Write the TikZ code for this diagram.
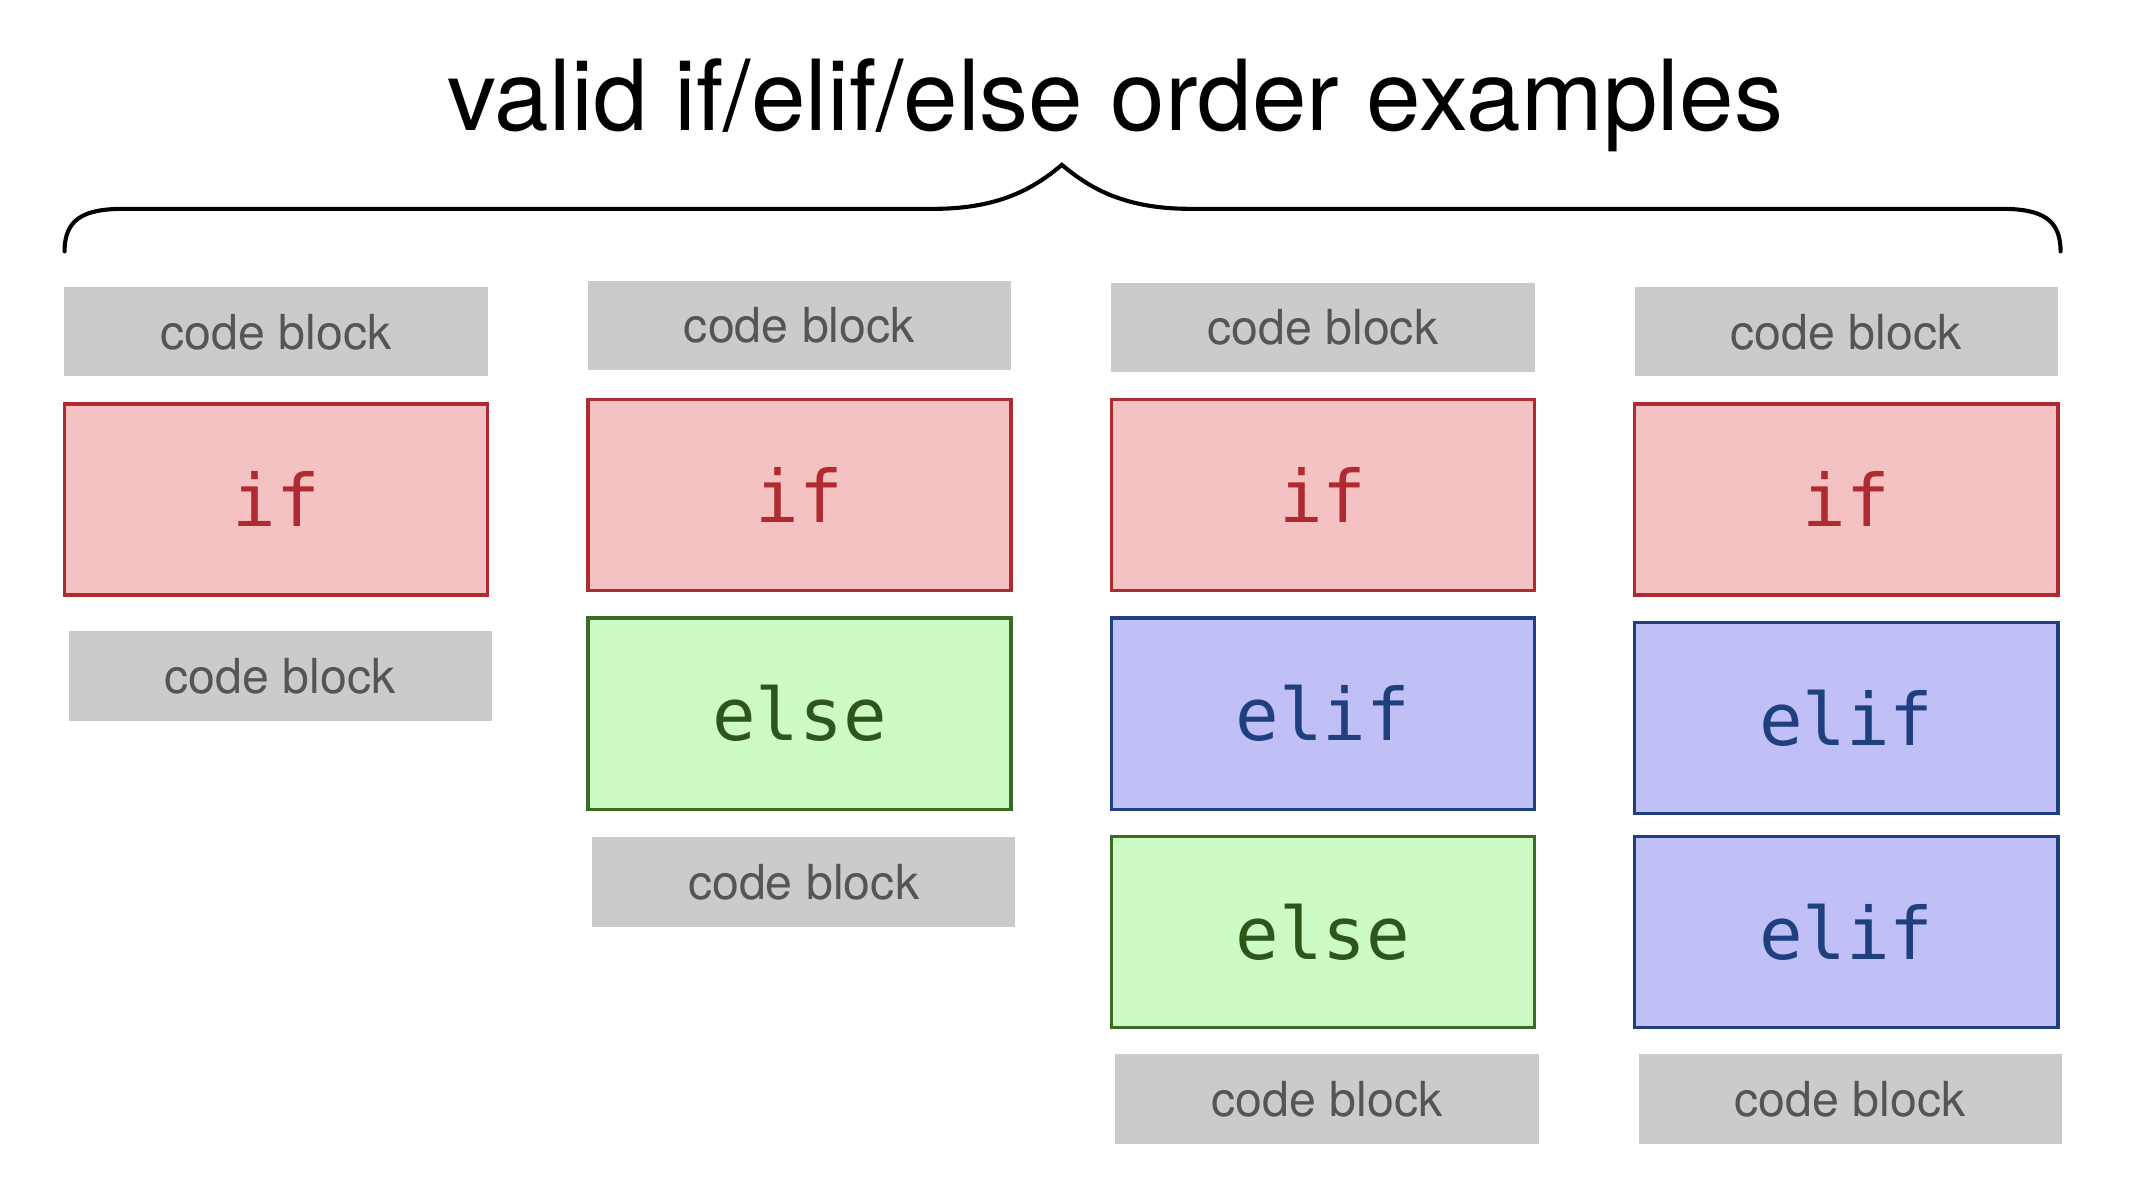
\documentclass[tikz,border=0pt]{standalone}
\usepackage{fontspec}
\setmainfont{TeX Gyre Heros}
\newfontfamily\monofont{DejaVu Sans Mono}
\usetikzlibrary{positioning,calc}
\definecolor{blkgray}{HTML}{CBCBCB}
\definecolor{blktext}{HTML}{555555}
\definecolor{iffill}{HTML}{F4C2C2}
\definecolor{ifline}{HTML}{B02A32}
\definecolor{eliffill}{HTML}{C0C0F6}
\definecolor{elifline}{HTML}{1F3F7F}
\definecolor{elsefill}{HTML}{CCFCC4}
\definecolor{elseline}{HTML}{3A6B22}
\tikzset{
  codeblk/.style={fill=blkgray,text=blktext,minimum width=3.08cm,minimum height=0.65cm,
    inner sep=0pt,font=\fontsize{10}{10}\selectfont},
  kwblk/.style={minimum width=3.08cm,minimum height=1.39cm,inner sep=0pt,line width=0.7pt,
    font=\monofont\fontsize{15}{15}\selectfont},
  ifblk/.style={kwblk,fill=iffill,draw=ifline,text=ifline},
  elifblk/.style={kwblk,fill=eliffill,draw=elifline,text=elifline},
  elseblk/.style={kwblk,fill=elsefill,draw=elseline,text=elseline!80!black}
}
\newcommand \mycode[3]{\node[codeblk] (#1) at (#2,#3) {code block};}
\begin{document}
\begin{tikzpicture}[x=0.01cm,y=-0.01cm]
\useasboundingbox (0,0) rectangle (1568,859);
% title and brace
\node[anchor=base,font=\fontsize{20.3}{20.3}\selectfont] (title) at (812,95) {valid if/elif/else order examples};
\draw[line width=0.85pt,line cap=round] (47,183) .. controls (47,160) and (60,152) .. (90,152)
  -- (680,152) .. controls (730,152) and (755,135) .. (773,120)
  .. controls (791,135) and (816,152) .. (866,152)
  -- (1457,152) .. controls (1487,152) and (1500,160) .. (1500,183);
% column 1: if
\mycode{ctopA}{201}{241.5}
\node[ifblk] (ifA) at (201,363.5) {if};
\mycode{cbotA}{204}{492}
% column 2: if / else
\mycode{ctopB}{582}{237}
\node[ifblk] (ifB) at (582,360.5) {if};
\node[elseblk] (elseB) at (582,519.5) {else};
\mycode{cbotB}{585}{642}
% column 3: if / elif / else
\mycode{ctopC}{963}{238.5}
\node[ifblk] (ifC) at (963,360.5) {if};
\node[elifblk] (elifC) at (963,519.5) {elif};
\node[elseblk] (elseC) at (963,678.5) {else};
\mycode{cbotC}{966}{800}
% column 4: if / elif / elif
\mycode{ctopD}{1344}{241.5}
\node[ifblk] (ifD) at (1344,363.5) {if};
\node[elifblk] (elifD) at (1344,522.5) {elif};
\node[elifblk] (elifDD) at (1344,678.5) {elif};
\mycode{cbotD}{1347}{800}
\end{tikzpicture}
\end{document}
